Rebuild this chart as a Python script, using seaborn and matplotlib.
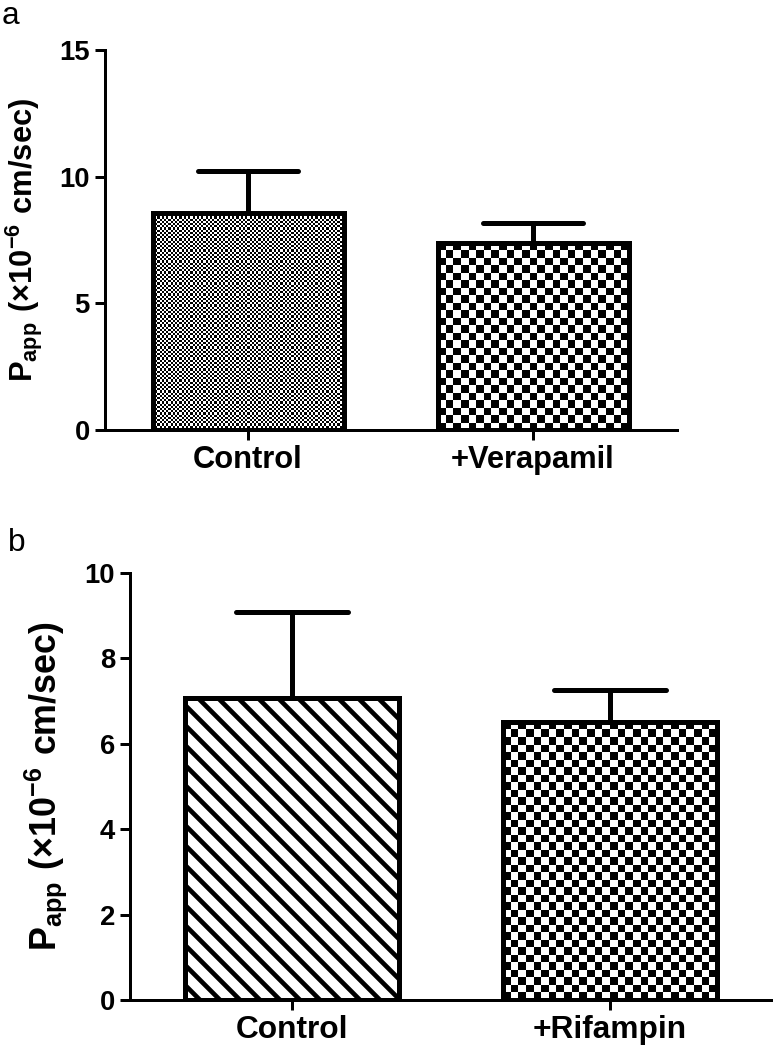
import matplotlib
matplotlib.use("Agg")
import matplotlib.pyplot as plt
from matplotlib.colors import ListedColormap
import numpy as np
import seaborn as sns

# panel a
groups_a = ["Control", "+Verapamil"]
means_a = [8.57, 7.37]
sd_a = [1.65, 0.81]

# panel b
groups_b = ["Control", "+Rifampin"]
means_b = [7.07, 6.51]
sd_b = [2.02, 0.75]

sns.set_style("ticks")
plt.rcParams["font.family"] = ["Liberation Sans", "DejaVu Sans"]
plt.rcParams["mathtext.fontset"] = "custom"
plt.rcParams["mathtext.bf"] = "Liberation Sans:bold"
plt.rcParams["mathtext.rm"] = "Liberation Sans"
plt.rcParams["hatch.linewidth"] = 2.8
plt.rcParams["hatch.color"] = "black"
for key in ["text.color", "axes.labelcolor", "xtick.color", "ytick.color",
            "axes.edgecolor"]:
    plt.rcParams[key] = "black"

DPI = 120
fig = plt.figure(figsize=(773 / DPI, 1050 / DPI), dpi=DPI)
fig.patch.set_facecolor("white")

ax_a = fig.add_axes([0.1358, 0.5905, 0.740, 0.3619])
ax_b = fig.add_axes([0.1682, 0.0476, 0.8305, 0.4067])

YLABEL = r"$\mathbf{P_{app}\ (\times 10^{-6}\ cm/sec)}$"
checker_cmap = ListedColormap(["black", "white"])


def checker_fill(ax, patch, cell_px):
    # fill a bar with a checkerboard, clipped to the bar outline
    x0, y0 = patch.get_x(), patch.get_y()
    x1, y1 = x0 + patch.get_width(), y0 + patch.get_height()
    (px0, py0), (px1, py1) = ax.transData.transform([(x0, y0), (x1, y1)])
    nx = max(1, int(round(abs(px1 - px0) / cell_px)))
    ny = max(1, int(round(abs(py1 - py0) / cell_px)))
    grid = (np.add.outer(np.arange(ny), np.arange(nx)) % 2).astype(float)
    im = ax.imshow(grid, cmap=checker_cmap, extent=(x0, x1, y0, y1),
                   origin="upper", aspect="auto", interpolation="nearest",
                   zorder=0.5)
    im.set_clip_path(patch)
    patch.set_facecolor("none")


def panel(ax, groups, means, sd, ymax, yticks, xlim, fills, label_x,
          label_size, ytick_size, xtick_size):
    sns.barplot(x=groups, y=means, ax=ax, width=0.67, color="white",
                edgecolor="black", linewidth=3, errorbar=None, saturation=1)
    ax.set_xlim(*xlim)
    ax.set_ylim(0, ymax)
    ax.set_yticks(yticks)
    bars = ax.patches[:len(groups)]
    for bar, fill in zip(bars, fills):
        bar.set_zorder(2)
        if fill == "stripes":
            bar.set_hatch("\\\\")
        else:
            checker_fill(ax, bar, fill)
    xs = [b.get_x() + b.get_width() / 2 for b in bars]
    tops = [m + s for m, s in zip(means, sd)]
    ax.vlines(xs, means, tops, color="black", linewidth=3, zorder=1.5)
    ax.hlines(tops, [x - 0.175 for x in xs], [x + 0.175 for x in xs],
              color="black", linewidth=3, capstyle="round", zorder=1.5)
    ax.set_xlim(*xlim)
    ax.set_ylim(0, ymax)
    sns.despine(ax=ax)
    for s in ["left", "bottom"]:
        ax.spines[s].set_linewidth(1.8)
        ax.spines[s].set_color("black")
    ax.tick_params(axis="both", length=6, width=1.8, pad=3, color="black",
                   labelcolor="black")
    ax.tick_params(axis="y", labelsize=ytick_size)
    ax.tick_params(axis="x", labelsize=xtick_size)
    for t in ax.get_yticklabels() + ax.get_xticklabels():
        t.set_fontweight("bold")
    ax.set_xlabel("")
    ax.set_ylabel(YLABEL, fontsize=label_size, color="black")
    ax.yaxis.set_label_coords(label_x, 0.5)


panel(ax_a, groups_a, means_a, sd_a, 15, [0, 5, 10, 15], (-0.502, 1.505),
      [2.2, 7.6], -0.105, 18.5, 16.5, 18.5)
panel(ax_b, groups_b, means_b, sd_b, 10, [0, 2, 4, 6, 8, 10], (-0.509, 1.509),
      ["stripes", 7.6], -0.095, 21.5, 16.5, 19)

fig.text(0.002, 0.999, "a", fontsize=19, va="top", ha="left")
fig.text(0.010, 0.497, "b", fontsize=19, va="top", ha="left")

fig.savefig("out.png", dpi=DPI, facecolor="white")
